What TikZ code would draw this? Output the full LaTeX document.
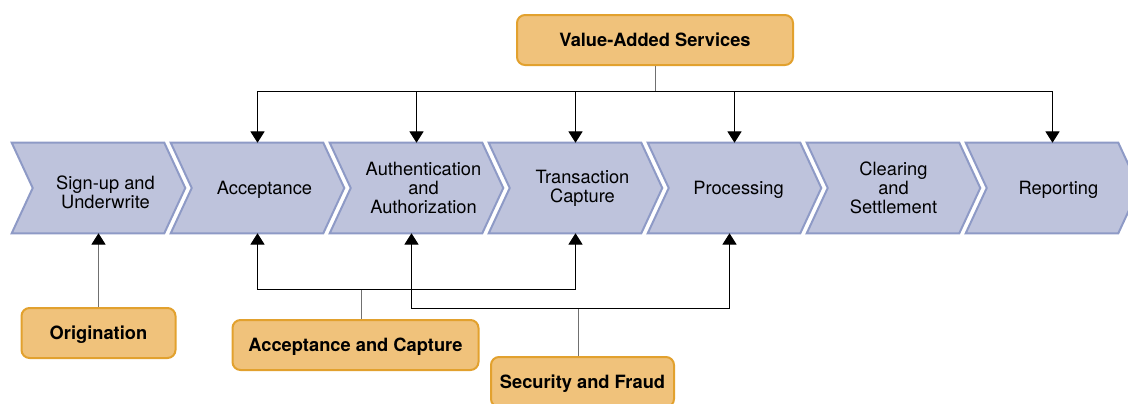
\documentclass[tikz,border=0pt]{standalone}
\usepackage{fontspec}
\setmainfont{TeX Gyre Heros}
\usetikzlibrary{arrows.meta}
\usetikzlibrary{backgrounds}
\definecolor{chevfill}{HTML}{BEC3DC}
\definecolor{chevline}{HTML}{8E9AC6}
\definecolor{boxfill}{HTML}{F0C27B}
\definecolor{boxline}{HTML}{E2A12E}
\definecolor{stubgray}{HTML}{707070}
\newlength{\px}
\setlength{\px}{0.025cm}

\begin{document}
\begin{tikzpicture}[x=0.025cm, y=-0.025cm,
  chev/.style={rectangle, inner sep=0pt, minimum width=173\px, minimum height=90\px},
  chevtext/.style={align=center, font=\fontsize{13}{13.3}\selectfont},
  svcbox/.style={rectangle, rounded corners=8\px, draw=boxline, fill=boxfill, line width=2\px,
    minimum height=50\px, inner sep=0pt, text depth=0pt, font=\fontsize{13}{13.5}\selectfont\bfseries},
  link/.style={-{Triangle[width=10pt,length=8pt]}, line width=0.7pt},
  stub/.style={draw=stubgray, line width=0.7pt}]

  \useasboundingbox (0,0) rectangle (1128,403);

  % stages
  \node[chev, label={[chevtext, xshift=7\px, yshift=-4\px]center:Sign-up and\\Underwrite}] (c1) at (98.5,188) {};
  \node[chev, label={[chevtext, xshift=7\px, yshift=-2\px]center:Acceptance}] (c2) at (257.5,188) {};
  \node[chev, label={[chevtext, xshift=7\px]center:Authentication\\and\\Authorization}] (c3) at (416.5,188) {};
  \node[chev, label={[chevtext, xshift=7\px]center:Transaction\\Capture}] (c4) at (575.5,188) {};
  \node[chev, label={[chevtext, xshift=4\px, yshift=-2\px]center:Processing}] (c5) at (734.5,188) {};
  \node[chev, label={[chevtext, xshift=0\px]center:Clearing\\and\\Settlement}] (c6) at (893.5,188) {};
  \node[chev, label={[chevtext, xshift=6\px, yshift=-2\px]center:Reporting}] (c7) at (1052.5,188) {};

  \begin{scope}[on background layer]
    \foreach \c in {c1, c2, c3, c4, c5, c6, c7}
      \draw[draw=chevline, fill=chevfill, line width=2\px]
        (\c.north west) -- ([xshift=-21\px]\c.north east) -- (\c.east)
        -- ([xshift=-21\px]\c.south east) -- (\c.south west) -- ([xshift=21\px]\c.west) -- cycle;
  \end{scope}

  % services
  \node[svcbox, minimum width=276\px] (vas) at (655,40) {Value-Added Services};
  \node[svcbox, minimum width=154\px] (orig) at (98.5,333) {Origination};
  \node[svcbox, minimum width=246\px] (accap) at (355.5,345) {Acceptance and Capture};
  \node[svcbox, minimum width=183\px] (secfr) at (582.5,382) {Security and Fraud};

  \coordinate (vasbus) at (655,91);
  \coordinate (accbus) at (361,289);
  \coordinate (secbus) at (578,308);

  \draw[stub] (vas.south) -- (vasbus);
  \foreach \c in {c2, c3, c4, c5, c7}
    \draw[link] (vasbus) -| (\c.north);

  \draw[stub, -{Triangle[width=10pt,length=8pt,color=black]}] (orig.north) -- (c1.south);

  \draw[stub] (accap.north -| accbus) -- (accbus);
  \foreach \c in {c2, c4}
    \draw[link] (accbus) -| (\c.south);

  \draw[stub] (secfr.north -| secbus) -- (secbus);
  \foreach \c in {c3, c5}
    \draw[link] (secbus) -| ([xshift=-5\px]\c.south);

\end{tikzpicture}
\end{document}
